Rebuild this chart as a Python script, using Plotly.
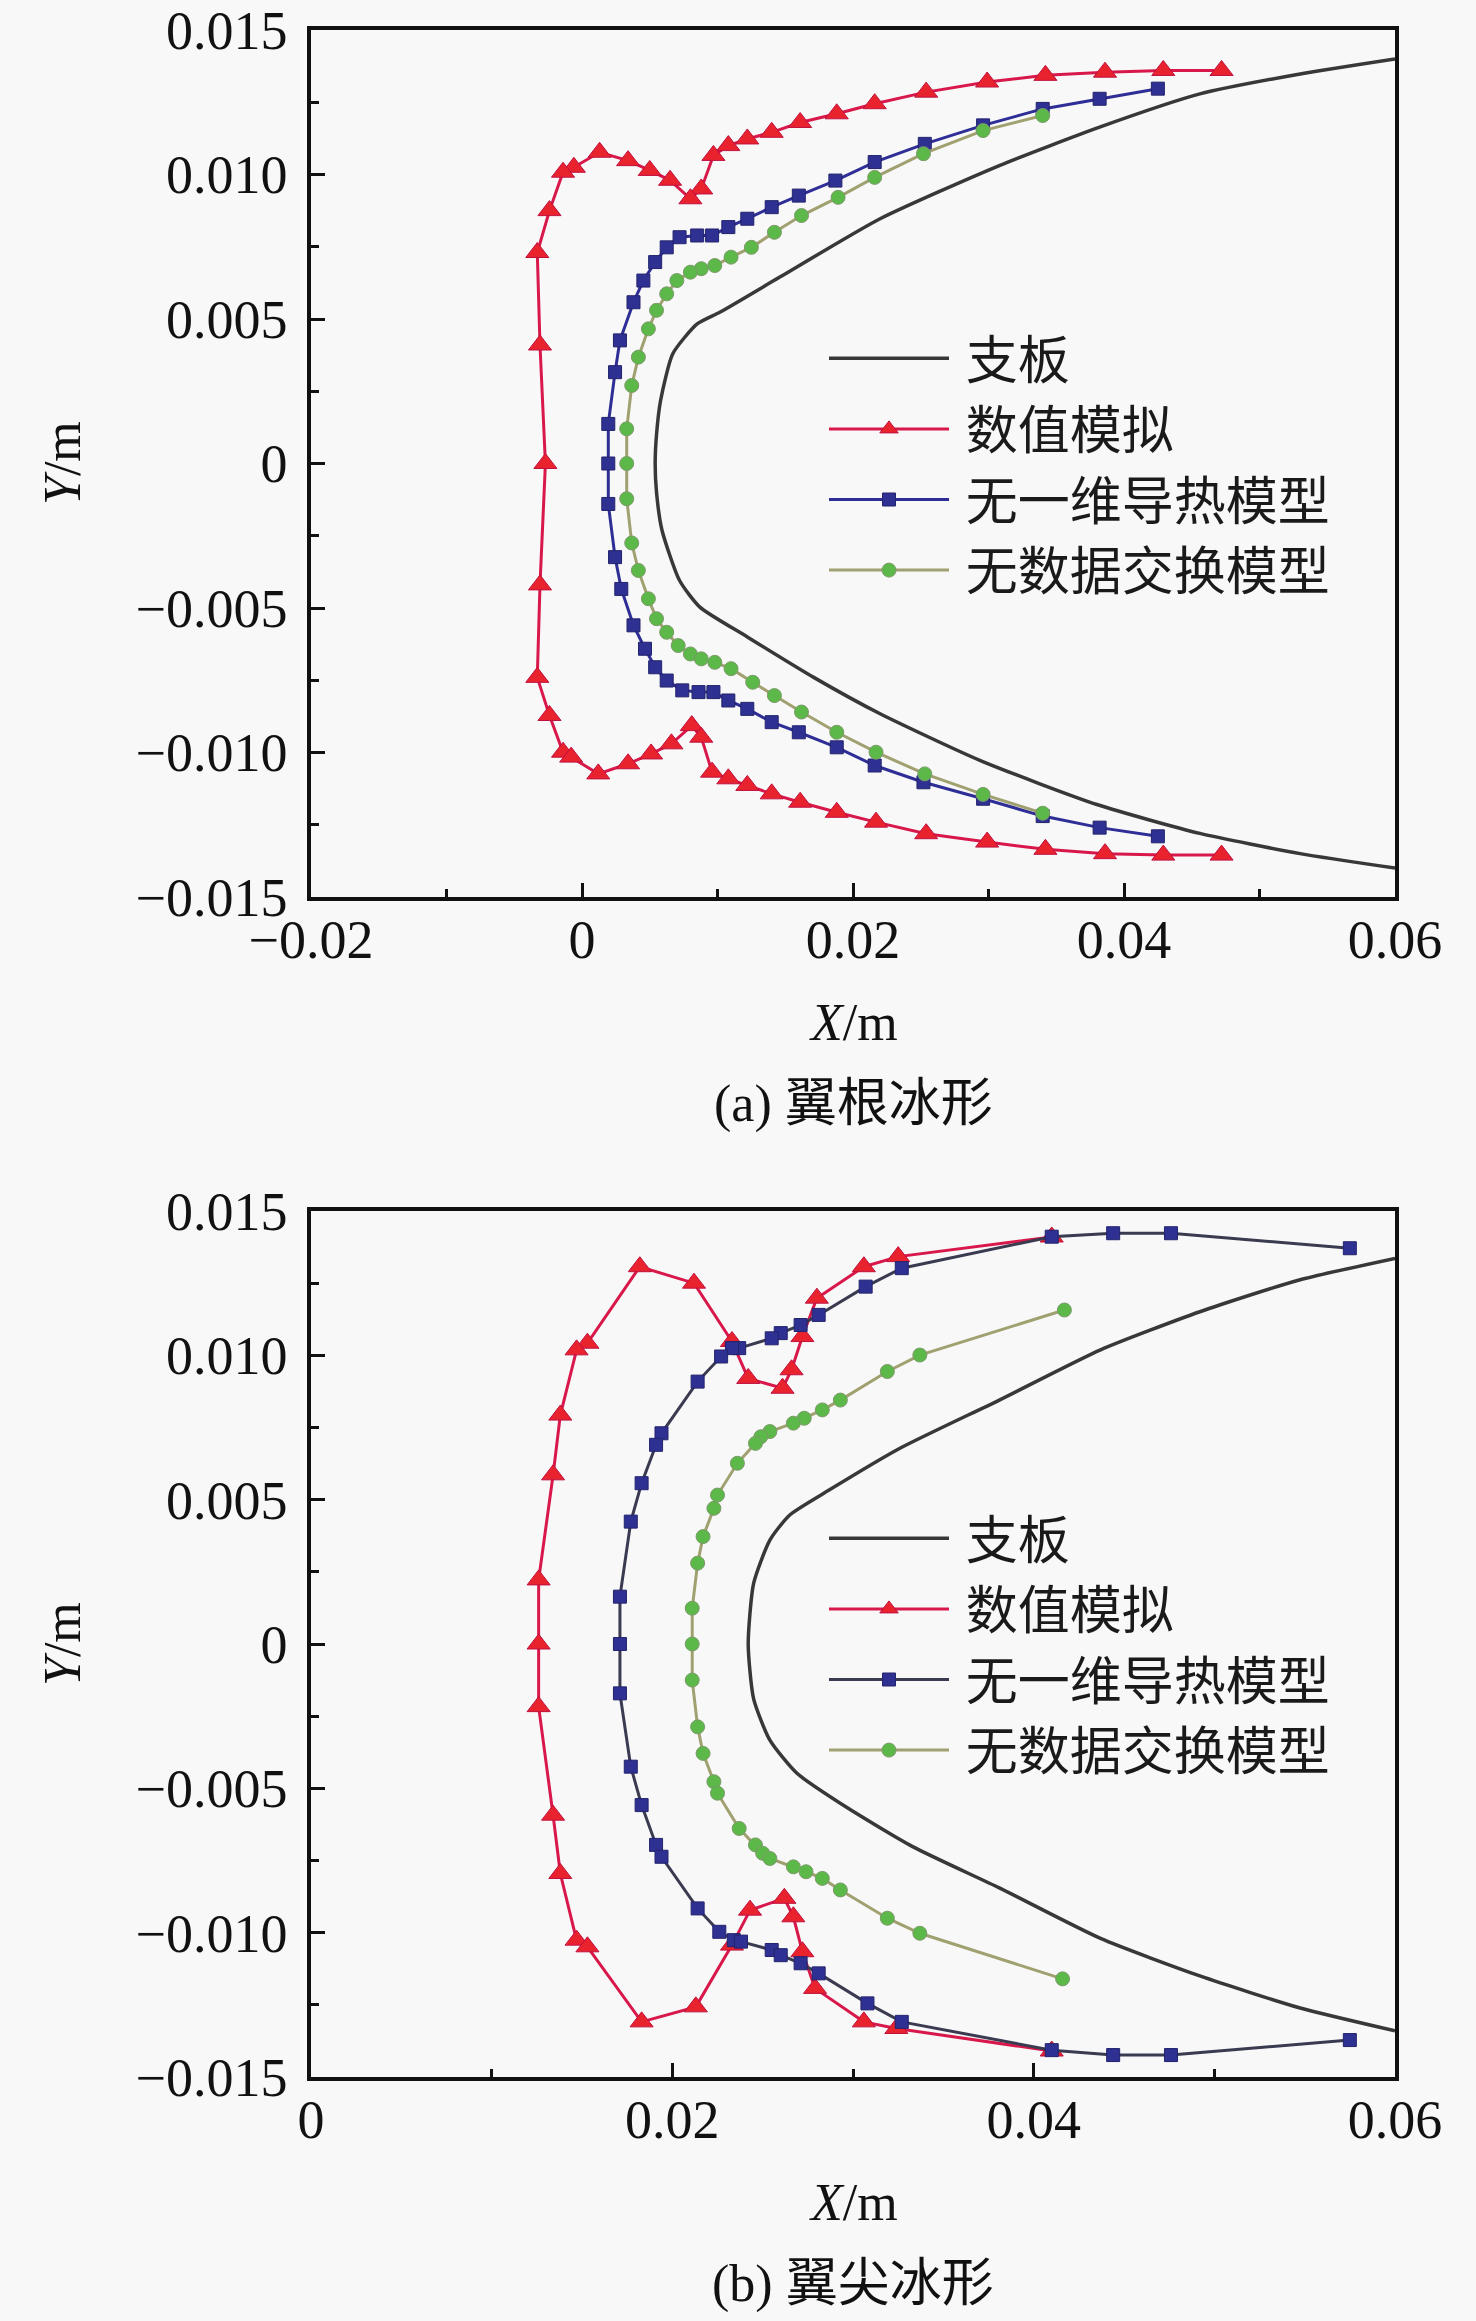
import plotly.graph_objects as go

# ---- (a) wing root ice shape ----
root_plate_x = [0.060, 0.053, 0.0456, 0.0382, 0.0308, 0.022, 0.0146, 0.0102, 0.0085, 0.0067, 0.0058, 0.0055, 0.0054,
                0.0055, 0.0059, 0.0072, 0.0087, 0.0122, 0.0171, 0.022, 0.0294, 0.038, 0.0456, 0.053, 0.060]
root_plate_y = [0.0140, 0.01348, 0.01279, 0.01164, 0.01031, 0.00847, 0.00645, 0.00524, 0.00483, 0.0038, 0.00218, 0.001, 0.0,
                -0.001, -0.0023, -0.00405, -0.00497, -0.006, -0.0074, -0.00866, -0.01028, -0.0118, -0.0128, -0.0135, -0.0140]

root_sim_x = [0.0472, 0.0429, 0.0386, 0.0342, 0.0299, 0.0254, 0.0216, 0.0188, 0.0161, 0.0140, 0.0122, 0.0108, 0.0097,
              0.0088, 0.0080, 0.0065, 0.0050, 0.0034, 0.0013, -0.0006, -0.0014, -0.0024, -0.0033, -0.0031, -0.0027,
              -0.0031, -0.0033, -0.0024, -0.0014, -0.0008, 0.0012, 0.0034, 0.0051, 0.0066, 0.0081, 0.0088, 0.0096,
              0.0108, 0.0122, 0.0140, 0.0161, 0.0188, 0.0217, 0.0254, 0.0299, 0.0342, 0.0386, 0.0429, 0.0472]
root_sim_y = [0.0136, 0.0136, 0.01354, 0.01343, 0.0132, 0.01285, 0.01245, 0.0121, 0.0118, 0.01146, 0.01123, 0.011, 0.01066,
              0.0095, 0.00916, 0.0098, 0.01014, 0.01048, 0.01077, 0.01025, 0.01008, 0.00875, 0.0073, 0.0041, 0.0,
              -0.0042, -0.0074, -0.00872, -0.00999, -0.01016, -0.01074, -0.01039, -0.01005, -0.0097, -0.00907, -0.00947, -0.01068,
              -0.01091, -0.01114, -0.01143, -0.01172, -0.01207, -0.01241, -0.01281, -0.0131, -0.01335, -0.0135, -0.01355, -0.01355]

root_nocond_x = [0.0425, 0.0382, 0.0340, 0.0296, 0.0253, 0.0216, 0.0187, 0.0160, 0.0140, 0.0122, 0.0108, 0.0096, 0.0085,
                 0.0072, 0.00625, 0.0054, 0.00453, 0.0038, 0.0028, 0.00244, 0.00194, 0.00194, 0.00194, 0.00244, 0.0029,
                 0.0038, 0.00465, 0.0054, 0.00625, 0.0074, 0.0086, 0.0097, 0.0108, 0.0122, 0.0140, 0.0160, 0.0188,
                 0.0216, 0.0252, 0.0296, 0.0340, 0.0382, 0.0425]
root_nocond_y = [0.01297, 0.01262, 0.01227, 0.0117, 0.01106, 0.01043, 0.00979, 0.00927, 0.00887, 0.00847, 0.00818, 0.00789, 0.00789,
                 0.00783, 0.00748, 0.00697, 0.00633, 0.00558, 0.00426, 0.00316, 0.00137, 0.0, -0.0014, -0.00324, -0.00434,
                 -0.0056, -0.00641, -0.00705, -0.00751, -0.00785, -0.00791, -0.00791, -0.0082, -0.00849, -0.00895, -0.0093, -0.00982,
                 -0.01045, -0.01103, -0.0116, -0.0122, -0.0126, -0.0129]

root_noex_x = [0.0340, 0.0296, 0.0252, 0.0216, 0.0189, 0.0162, 0.0142, 0.0125, 0.0110, 0.0098, 0.0088, 0.0080, 0.0070,
               0.00625, 0.0055, 0.0049, 0.00416, 0.00367, 0.0033, 0.0033, 0.0033, 0.00367, 0.00416, 0.0049, 0.0055,
               0.00625, 0.0071, 0.0080, 0.0088, 0.0098, 0.0110, 0.0126, 0.0142, 0.0162, 0.0188, 0.0217, 0.0253,
               0.0296, 0.0340]
root_noex_y = [0.01204, 0.01152, 0.01072, 0.0099, 0.00921, 0.00858, 0.008, 0.00748, 0.00714, 0.00685, 0.00674, 0.00662, 0.00633,
               0.00587, 0.0053, 0.00466, 0.00368, 0.0027, 0.0012, 0.0, -0.00122, -0.00275, -0.0037, -0.00468, -0.00537,
               -0.00584, -0.0063, -0.00659, -0.00676, -0.00688, -0.0071, -0.00757, -0.00803, -0.0086, -0.0093, -0.00999, -0.01074,
               -0.01145, -0.0121]

# ---- (b) wing tip ice shape ----
tip_plate_x = [0.060, 0.0547, 0.0492, 0.0437, 0.0381, 0.0326, 0.0287, 0.0265, 0.0254, 0.0245, 0.0242,
               0.0245, 0.0254, 0.0269, 0.0296, 0.0333, 0.0381, 0.0437, 0.0492, 0.0547, 0.060]
tip_plate_y = [0.01336, 0.01261, 0.01151, 0.01019, 0.00845, 0.00678, 0.00534, 0.00447, 0.0036, 0.0021, 0.0,
               -0.0019, -0.00333, -0.00448, -0.00564, -0.00702, -0.00845, -0.0102, -0.0115, -0.0126, -0.0134]

tip_sim_x = [0.0410, 0.0325, 0.0306, 0.0280, 0.0272, 0.0266, 0.0261, 0.0242, 0.0233, 0.0212, 0.0182, 0.0153, 0.0147,
             0.0138, 0.0134, 0.0126, 0.0126, 0.0126, 0.0134, 0.0138, 0.0147, 0.0153, 0.0183, 0.0213, 0.0233,
             0.0243, 0.0262, 0.0267, 0.0272, 0.0279, 0.0306, 0.0324, 0.0410]
tip_sim_y = [0.0141, 0.01342, 0.01307, 0.01198, 0.01065, 0.0095, 0.00886, 0.0092, 0.01048, 0.0125, 0.01307, 0.01042, 0.01019,
             0.00793, 0.00586, 0.00222, 0.0, -0.00217, -0.00593, -0.00795, -0.01026, -0.01049, -0.01309, -0.01257, -0.01043,
             -0.00922, -0.00881, -0.00945, -0.01066, -0.01193, -0.01309, -0.01332, -0.0141]

tip_nocond_x = [0.0575, 0.0476, 0.0444, 0.0410, 0.0327, 0.0307, 0.0281, 0.0271, 0.0260, 0.0255, 0.0237, 0.0233, 0.0227,
                0.0214, 0.0194, 0.0191, 0.0183, 0.0177, 0.0171, 0.0171, 0.0171, 0.0177, 0.0183, 0.0191, 0.0194,
                0.0214, 0.0226, 0.0234, 0.0238, 0.0255, 0.0260, 0.0271, 0.0281, 0.0308, 0.0327, 0.0410, 0.0444,
                0.0476, 0.0575]
tip_nocond_y = [0.01371, 0.01423, 0.01423, 0.01411, 0.01302, 0.01238, 0.0114, 0.01105, 0.01077, 0.01059, 0.01025, 0.01025, 0.00996,
                0.00909, 0.0073, 0.0069, 0.00557, 0.00424, 0.00164, 0.0, -0.00171, -0.00425, -0.00558, -0.00696, -0.00737,
                -0.00916, -0.00997, -0.01026, -0.01031, -0.0106, -0.01078, -0.01106, -0.01141, -0.01245, -0.01309, -0.01407, -0.01424,
                -0.01424, -0.01372]

tip_noex_x = [0.0417, 0.0337, 0.0319, 0.0293, 0.0283, 0.0273, 0.0267, 0.0254, 0.0249, 0.0246, 0.0236, 0.0225, 0.0223,
              0.0217, 0.0214, 0.0211, 0.0211, 0.0211, 0.0214, 0.0217, 0.0223, 0.0225, 0.0237, 0.0246, 0.0250,
              0.0254, 0.0267, 0.0274, 0.0283, 0.0293, 0.0319, 0.0337, 0.0416]
tip_noex_y = [0.01157, 0.01001, 0.00944, 0.00845, 0.00811, 0.00782, 0.00765, 0.00736, 0.00718, 0.00695, 0.00626, 0.00516, 0.0047,
              0.00372, 0.0028, 0.00124, 0.0, -0.00125, -0.00287, -0.00379, -0.00477, -0.00517, -0.00639, -0.00696, -0.00725,
              -0.00743, -0.00772, -0.00789, -0.00812, -0.00852, -0.0095, -0.01002, -0.0116]

series_names = ["支板", "数值模拟", "无一维导热模型", "无数据交换模型"]
y_tickvals = [0.015, 0.010, 0.005, 0, -0.005, -0.010, -0.015]
y_ticktext = ["0.015", "0.010", "0.005", "0", "−0.005", "−0.010", "−0.015"]
y_minor = [0.0125, 0.0075, 0.0025, -0.0025, -0.0075, -0.0125]
root_xticks = [-0.02, 0, 0.02, 0.04, 0.06]
root_xtext = ["−0.02", "0", "0.02", "0.04", "0.06"]
root_xminor = [-0.01, 0.01, 0.03, 0.05]
tip_xticks = [0, 0.02, 0.04, 0.06]
tip_xtext = ["0", "0.02", "0.04", "0.06"]
tip_xminor = [0.01, 0.03, 0.05]

W, H = 1476, 2321
SERIF = '"Liberation Serif", "Times New Roman", serif'
CJK = '"Noto Sans CJK SC"'
BG = "#f8f8f8"

fig = go.Figure()


def add_panel(xa, ya, leg, plate, sim, nocond, noex, blue_line):
    # a no-break space keeps the wider gap between legend line and label
    fig.add_trace(go.Scatter(x=plate[0], y=plate[1], mode="lines", name="\u00a0" + series_names[0],
                             line=dict(color="#383838", width=3.5, shape="spline", smoothing=0.6),
                             xaxis=xa, yaxis=ya, legend=leg))
    fig.add_trace(go.Scatter(x=sim[0], y=sim[1], mode="lines+markers", name="\u00a0" + series_names[1],
                             line=dict(color="#d8184a", width=3),
                             marker=dict(symbol="triangle-up", size=20, color="#e8232e",
                                         line=dict(color="#c01040", width=1)),
                             xaxis=xa, yaxis=ya, legend=leg))
    fig.add_trace(go.Scatter(x=nocond[0], y=nocond[1], mode="lines+markers", name="\u00a0" + series_names[2],
                             line=dict(color=blue_line, width=3),
                             marker=dict(symbol="square", size=13, color="#2f3192",
                                         line=dict(color="#23236e", width=1)),
                             xaxis=xa, yaxis=ya, legend=leg))
    fig.add_trace(go.Scatter(x=noex[0], y=noex[1], mode="lines+markers", name="\u00a0" + series_names[3],
                             line=dict(color="#a0a070", width=3),
                             marker=dict(symbol="circle", size=14, color="#5cb848",
                                         line=dict(color="#7c9a6a", width=1)),
                             xaxis=xa, yaxis=ya, legend=leg))


add_panel("x", "y", "legend", (root_plate_x, root_plate_y), (root_sim_x, root_sim_y),
          (root_nocond_x, root_nocond_y), (root_noex_x, root_noex_y), "#2e2e96")
add_panel("x2", "y2", "legend2", (tip_plate_x, tip_plate_y), (tip_sim_x, tip_sim_y),
          (tip_nocond_x, tip_nocond_y), (tip_noex_x, tip_noex_y), "#3a3a50")


def xaxis_cfg(rng, vals, text, minor_vals, dom_anchor):
    return dict(range=rng, domain=[311 / W, 1395 / W], anchor=dom_anchor, automargin=False,
                tickmode="array", tickvals=vals, ticktext=text,
                ticks="inside", ticklen=14, tickwidth=2.5, tickcolor="#111",
                minor=dict(tickmode="array", tickvals=minor_vals, ticks="inside",
                           ticklen=8, tickwidth=2.5, tickcolor="#111"),
                showline=True, linecolor="#111", linewidth=3.5, mirror=True,
                showgrid=False, zeroline=False,
                tickfont=dict(family=SERIF, size=54, color="#111"),
                ticklabelstandoff=-8)


def yaxis_cfg(dom, dom_anchor):
    return dict(range=[-0.015, 0.015], domain=dom, anchor=dom_anchor, automargin=False,
                tickmode="array", tickvals=y_tickvals, ticktext=y_ticktext,
                ticks="inside", ticklen=14, tickwidth=2.5, tickcolor="#111",
                minor=dict(tickmode="array", tickvals=y_minor, ticks="inside",
                           ticklen=8, tickwidth=2.5, tickcolor="#111"),
                showline=True, linecolor="#111", linewidth=3.5, mirror=True,
                showgrid=False, zeroline=False,
                tickfont=dict(family=SERIF, size=54, color="#111"),
                ticklabelstandoff=9)


def legend_cfg(top_px):
    return dict(x=824 / W, y=1 - top_px / H, xanchor="left", yanchor="top",
                bgcolor="rgba(0,0,0,0)", borderwidth=0, itemwidth=120,
                font=dict(family=CJK, size=52, color="#1a1a1a"), tracegroupgap=0)


fig.update_layout(
    width=W, height=H,
    margin=dict(l=0, r=0, t=0, b=0, autoexpand=False),
    paper_bgcolor=BG, plot_bgcolor=BG,
    xaxis=xaxis_cfg([-0.02, 0.06], root_xticks, root_xtext, root_xminor, "y"),
    yaxis=yaxis_cfg([1 - 897 / H, 1 - 30 / H], "x"),
    xaxis2=xaxis_cfg([0, 0.06], tip_xticks, tip_xtext, tip_xminor, "y2"),
    yaxis2=yaxis_cfg([1 - 2077 / H, 1 - 1211 / H], "x2"),
    legend=legend_cfg(318),
    legend2=legend_cfg(1498),
    showlegend=True,
)

labels = [
    ("<i>Y</i>/m", 62, 463, -90, SERIF),
    ("<i>X</i>/m", 853, 1022, 0, SERIF),
    ("(a) 翼根冰形", 853, 1104, 0, SERIF + ", " + CJK),
    ("<i>Y</i>/m", 62, 1644, -90, SERIF),
    ("<i>X</i>/m", 853, 2202, 0, SERIF),
    ("(b) 翼尖冰形", 853, 2284, 0, SERIF + ", " + CJK),
]
for text, px, py, ang, fam in labels:
    fig.add_annotation(text=text, x=px / W, y=1 - py / H, xref="paper", yref="paper",
                       showarrow=False, textangle=ang, xanchor="center", yanchor="middle",
                       font=dict(family=fam, size=52, color="#111"))

fig.write_html("out.html", config={"displayModeBar": False},
               post_script="document.body.style.margin='0';document.body.style.background='#f8f8f8';")
